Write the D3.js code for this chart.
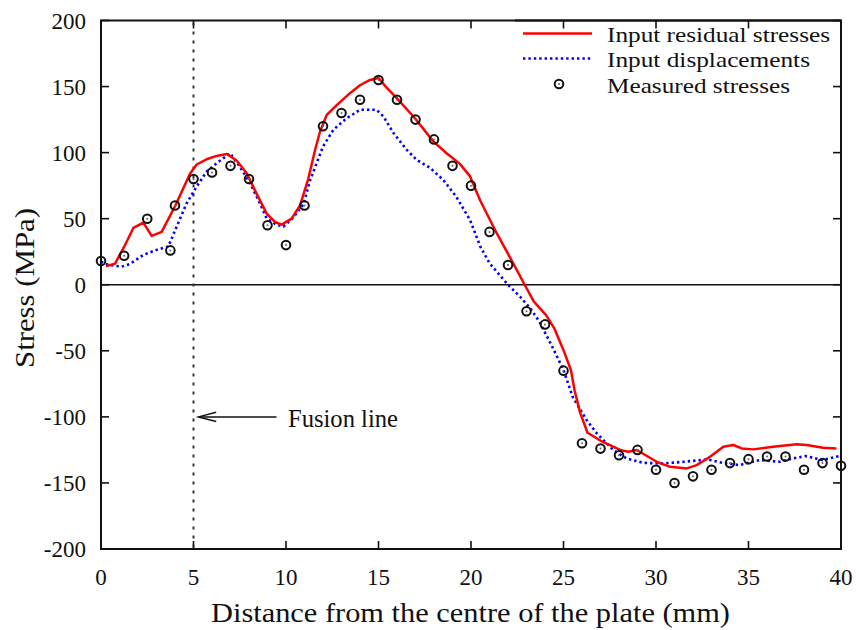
<!DOCTYPE html>
<html><head><meta charset="utf-8">
<script src="https://cdn.jsdelivr.net/npm/d3@7"></script>
<style>body{margin:0;background:#fff}svg{display:block}text{font-family:"Liberation Serif","Times New Roman",serif;fill:#111}</style>
</head><body><svg id="c" width="859" height="630"></svg>
<script>
const redX=[0.27,0.76,1.26,1.75,2.29,2.74,3.28,4.02,4.81,5.17,5.71,6.25,6.8,7.33,7.87,8.41,8.95,9.4,9.77,10.3,10.76,11.2,11.57,11.84,12.2,12.74,13.46,14.0,14.54,15.0,15.45,16.0,16.97,17.96,18.68,19.4,19.95,20.49,21.39,22.29,22.9,23.4,24.06,24.5,25.0,25.4,25.6,25.9,26.3,27.1,28.06,28.5,28.96,30.04,30.76,31.66,32.2,32.92,33.64,34.18,34.63,35.26,36.34,37.6,38.14,39.03,39.75];
const redY=[14,16,29,43,47,37,40,60,84,91,95,97.5,99,94,84.5,69,54,47.5,45.5,50,60,80,102,116,128.5,136,145,151,155,156.5,149,141,126,108.5,99.5,91.5,82,64,39,16,0,-12.8,-23,-33,-49.5,-64.5,-80,-97,-112,-118.8,-125,-126.4,-125.1,-134,-137.8,-139,-136.5,-130.2,-122.6,-121.3,-123.9,-124.6,-122.6,-120.8,-121.3,-123.4,-124];
const blueX=[0,0.4,1.12,1.57,2.29,3.0,3.64,4.09,4.63,5.17,5.71,6.25,6.97,7.5,8.05,8.59,8.95,9.5,9.86,10.4,10.95,11.3,12.0,12.56,13.28,14.0,14.9,15.27,15.81,16.53,17.07,17.8,18.5,19.2,19.95,20.5,21.0,22.0,22.65,23.2,23.7,24.3,25.0,25.5,26.25,26.8,27.7,28.4,29.3,30.4,31.5,32.8,33.6,34.5,35.6,36.7,37.4,38.1,39.0,39.9];
const blueY=[17.5,15,13.7,15.8,22.6,26.4,29,44,61.7,74.3,85.7,92,99.6,89.5,77,61.7,50.4,45.3,44,51,61,79,104.6,117.3,126,132.4,132.4,127.3,114.8,102,94.5,88.3,79.4,66.7,49,29,16.3,0,-9,-17.8,-28,-44.3,-64.5,-85,-102.4,-112.5,-125.2,-131.4,-134.8,-135.3,-134,-132.2,-134.8,-136.5,-132.7,-134,-131.4,-129.7,-132.7,-129.7];
const measX=[0,1.25,2.5,3.75,4,5,6,7,8,9,10,11,12,13,14,15,16,17,18,19,20,21,22,23,24,25,26,27,28,29,30,31,32,33,34,35,36,37,38,39,40];
const measY=[18,22,50,26,60,80,85,90,80,45,30,60,120,130,140,155,140,125,110,90,75,40,15,-20,-30,-65,-120,-124,-129,-125,-140,-150,-145,-140,-135,-132,-130,-130,-140,-135,-137];
const xTicks=[0,5,10,15,20,25,30,35,40];
const yTicks=[200,150,100,50,0,-50,-100,-150,-200];
const seriesNames=["Input residual stresses","Input displacements","Measured stresses"];
const fusionX=5, fusionLabelY=-100;

const svg=d3.select("#c");
const L=101,R=841,T=20.5,B=549;
const x=d3.scaleLinear().domain([0,40]).range([L,R]);
const y=d3.scaleLinear().domain([-200,200]).range([B,T]);

// ticks (inward, all 4 sides)
const tk=8;
const g=svg.append("g").attr("stroke","#111").attr("stroke-width",1.6);
xTicks.forEach(v=>{
  g.append("line").attr("x1",x(v)).attr("x2",x(v)).attr("y1",B).attr("y2",B-tk);
  g.append("line").attr("x1",x(v)).attr("x2",x(v)).attr("y1",T).attr("y2",T+tk);
});
yTicks.forEach(v=>{
  g.append("line").attr("x1",L).attr("x2",L+tk).attr("y1",y(v)).attr("y2",y(v));
  g.append("line").attr("x1",R).attr("x2",R-tk).attr("y1",y(v)).attr("y2",y(v));
});
// zero line
svg.append("line").attr("x1",L).attr("x2",R).attr("y1",y(0)).attr("y2",y(0)).attr("stroke","#111").attr("stroke-width",1.6);
// fusion line
svg.append("line").attr("x1",x(fusionX)).attr("x2",x(fusionX)).attr("y1",T+2).attr("y2",B)
  .attr("stroke","#333").attr("stroke-width",2).attr("stroke-dasharray","3,6");

// tick labels
xTicks.forEach(v=>svg.append("text").attr("x",x(v)).attr("y",585).attr("text-anchor","middle").attr("font-size",23).text(v));
yTicks.forEach(v=>svg.append("text").attr("x",86).attr("y",y(v)+8).attr("text-anchor","end").attr("font-size",23).text(v));

// axis titles
svg.append("text").attr("x",211).attr("y",622).attr("font-size",27).attr("textLength",519).attr("lengthAdjust","spacingAndGlyphs").text("Distance from the centre of the plate (mm)");
svg.append("text").attr("transform","translate(34,368) rotate(-90)").attr("font-size",27).attr("textLength",160).attr("lengthAdjust","spacingAndGlyphs").text("Stress (MPa)");

// data lines
const line=d3.line().x(d=>x(d[0])).y(d=>y(d[1]));
svg.append("path").datum(blueX.map((v,i)=>[v,blueY[i]])).attr("d",line).attr("fill","none")
  .attr("stroke","#0000ff").attr("stroke-width",2.6).attr("stroke-dasharray","2.4,3");
svg.append("path").datum(redX.map((v,i)=>[v,redY[i]])).attr("d",line).attr("fill","none")
  .attr("stroke","#ff0000").attr("stroke-width",2.5).attr("stroke-linejoin","round");

// measured points
function marker(sel,cx,cy){
  sel.append("circle").attr("cx",cx).attr("cy",cy).attr("r",4.3).attr("fill","none").attr("stroke","#111").attr("stroke-width",2);
  sel.append("circle").attr("cx",cx).attr("cy",cy).attr("r",1).attr("fill","#666");
}
const mg=svg.append("g");
measX.forEach((v,i)=>marker(mg,x(v),y(measY[i])));

// frame
svg.append("rect").attr("x",L).attr("y",T).attr("width",R-L).attr("height",B-T).attr("fill","none").attr("stroke","#111").attr("stroke-width",2);

// fusion annotation
const ay=y(fusionLabelY), ax=x(fusionX)+5;
svg.append("line").attr("x1",ax).attr("x2",ax+78).attr("y1",ay).attr("y2",ay).attr("stroke","#111").attr("stroke-width",1.5);
svg.append("path").attr("d",`M${ax+17.7},${ay-4.7}L${ax},${ay}L${ax+17.7},${ay+4.7}`).attr("fill","none").attr("stroke","#111").attr("stroke-width",1.5);
svg.append("text").attr("x",288).attr("y",426.5).attr("font-size",24.5).attr("textLength",110).attr("lengthAdjust","spacingAndGlyphs").text("Fusion line");

// legend
const lg=svg.append("g");
const lx1=523,lx2=592,tx=607;
const rows=[33.5,58.5,84];
const tl=[223,203,183];
lg.append("rect").attr("x",515).attr("y",T+1.5).attr("width",R-515-1.5).attr("height",78).attr("fill","#fff");
lg.append("line").attr("x1",lx1).attr("x2",lx2).attr("y1",rows[0]).attr("y2",rows[0]).attr("stroke","#ff0000").attr("stroke-width",2.5);
lg.append("line").attr("x1",lx1).attr("x2",lx2).attr("y1",rows[1]).attr("y2",rows[1]).attr("stroke","#0000ff").attr("stroke-width",2.6).attr("stroke-dasharray","2.4,3");
marker(lg,559,rows[2]);
seriesNames.forEach((s,i)=>lg.append("text").attr("x",tx).attr("y",rows[i]+8.5).attr("font-size",21.5).attr("textLength",tl[i]).attr("lengthAdjust","spacingAndGlyphs").text(s));
// redraw top ticks & right tick over legend box
[20,25,30,35,40].forEach(v=>{if(x(v)>515) lg.append("line").attr("x1",x(v)).attr("x2",x(v)).attr("y1",T).attr("y2",T+tk).attr("stroke","#111").attr("stroke-width",1.6);});
lg.append("line").attr("x1",R).attr("x2",R-tk).attr("y1",y(150)).attr("y2",y(150)).attr("stroke","#111").attr("stroke-width",1.6);
lg.append("line").attr("x1",515).attr("x2",R).attr("y1",T).attr("y2",T).attr("stroke","#111").attr("stroke-width",2);
lg.append("line").attr("x1",R).attr("x2",R).attr("y1",T).attr("y2",T+80).attr("stroke","#111").attr("stroke-width",2);
</script></body></html>
